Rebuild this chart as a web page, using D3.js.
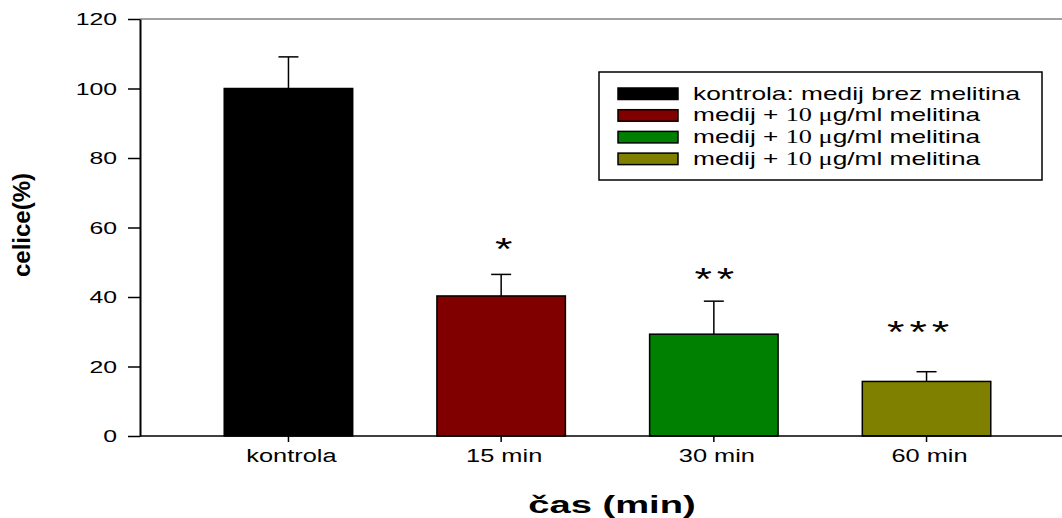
<!DOCTYPE html>
<html>
<head>
<meta charset="utf-8">
<script src="https://cdn.jsdelivr.net/npm/d3@7"></script>
<style>
  body { margin: 0; background: #fff; }
  text { font-family: "Liberation Sans", Arial, sans-serif; fill: #000; }
</style>
</head>
<body>
<div id="chart"></div>
<script>
const WIDTH = 1062;
const HEIGHT = 518;

// values
const categories = ["kontrola", "15 min", "30 min", "60 min"];
const means = [100, 40.3, 29.3, 15.7];
const errors = [9.1, 6.2, 9.5, 2.8];
const stars = ["", "*", "**", "***"];
const starLevels = [0, 55.9, 47.3, 31.9];
const colors = ["#000000", "#800000", "#008000", "#808000"];
const legendLabels = [
  ["kontrola: medij brez melitina"],
  ["medij + ", "10 \u03bc", "g/ml melitina"],
  ["medij + ", "10 \u03bc", "g/ml melitina"],
  ["medij + ", "10 \u03bc", "g/ml melitina"]
];
const yTicks = [0, 20, 40, 60, 80, 100, 120];

const svg = d3.select("#chart").append("svg")
  .attr("width", WIDTH).attr("height", HEIGHT);

const x = d3.scaleBand().domain(categories).range([140, 1075]).padding(0.396);
const y = d3.scaleLinear().domain([0, 120]).range([436, 19]);

// bars
svg.selectAll(".bar").data(categories).enter()
  .append("rect")
  .attr("class", "bar")
  .attr("x", d => x(d))
  .attr("y", (d, i) => y(means[i]))
  .attr("width", x.bandwidth())
  .attr("height", (d, i) => y(0) - y(means[i]))
  .attr("fill", (d, i) => colors[i])
  .attr("stroke", "#000")
  .attr("stroke-width", 1.5);

// error bars (upper only)
const cx = d => x(d) + x.bandwidth() / 2;
svg.selectAll(".err").data(categories).enter()
  .append("line")
  .attr("x1", cx).attr("x2", cx)
  .attr("y1", (d, i) => y(means[i]))
  .attr("y2", (d, i) => y(means[i] + errors[i]))
  .attr("stroke", "#000").attr("stroke-width", 1.5);
svg.selectAll(".cap").data(categories).enter()
  .append("line")
  .attr("x1", d => cx(d) - 10).attr("x2", d => cx(d) + 10)
  .attr("y1", (d, i) => y(means[i] + errors[i]))
  .attr("y2", (d, i) => y(means[i] + errors[i]))
  .attr("stroke", "#000").attr("stroke-width", 1.5);

// significance stars
const starShift = [0, 5, 3, -6];
svg.selectAll(".star").data(categories.filter((d, i) => stars[i])).enter()
  .append("text")
  .attr("transform", d => {
    const i = categories.indexOf(d);
    return `translate(${cx(d) + starShift[i]},${y(starLevels[i])}) scale(1.4,1)`;
  })
  .attr("dy", "0.57em")
  .attr("text-anchor", "middle")
  .style("font-size", "32px")
  .style("letter-spacing", "3.5px")
  .text(d => stars[categories.indexOf(d)]);

// frame lines
svg.append("line").attr("x1", 140).attr("x2", WIDTH).attr("y1", 19).attr("y2", 19)
  .attr("stroke", "#444").attr("stroke-width", 1);

// y axis
const yAxis = svg.append("g").attr("transform", "translate(140,0)")
  .call(d3.axisLeft(y).tickValues(yTicks).tickSize(12).tickSizeOuter(0));
yAxis.select(".domain").attr("stroke-width", 2);
yAxis.selectAll(".tick line").attr("stroke-width", 1.5);
yAxis.selectAll(".tick text")
  .attr("x", 0).attr("dy", "0.36em")
  .attr("transform", "translate(-23,0) scale(1.55,1)")
  .style("font-size", "16px").style("font-family", "Liberation Sans, Arial, sans-serif");

// x axis
const xAxis = svg.append("g").attr("transform", "translate(0,436)")
  .call(d3.axisBottom(x).tickSize(6).tickSizeOuter(0));
xAxis.select(".domain").attr("d", `M140,0H${WIDTH}`).attr("stroke-width", 1.5);
xAxis.selectAll(".tick line").attr("stroke-width", 1.5);
xAxis.selectAll(".tick text")
  .attr("y", 0).attr("dy", 0)
  .attr("transform", "translate(3,26) scale(1.41,1)")
  .style("font-size", "18px").style("font-family", "Liberation Sans, Arial, sans-serif");

// axis titles
svg.append("text")
  .attr("transform", "translate(612,513) scale(1.59,1)")
  .attr("text-anchor", "middle")
  .style("font-size", "24px").style("font-weight", "bold")
  .text("čas (min)");

svg.append("text")
  .attr("transform", "translate(30,225) rotate(-90)")
  .attr("text-anchor", "middle")
  .attr("textLength", 104).attr("lengthAdjust", "spacingAndGlyphs")
  .style("font-size", "24px").style("font-weight", "bold")
  .text("celice(%)");

// legend
const legend = svg.append("g");
legend.append("rect")
  .attr("x", 599).attr("y", 72).attr("width", 443).attr("height", 108)
  .attr("fill", "#fff").attr("stroke", "#000").attr("stroke-width", 1.5);
legendLabels.forEach((parts, i) => {
  legend.append("rect")
    .attr("x", 618).attr("y", 88 + i * 21.7)
    .attr("width", 60).attr("height", 11.5)
    .attr("fill", colors[i]).attr("stroke", "#000").attr("stroke-width", 1.5);
  const t = legend.append("text")
    .attr("transform", `translate(693,${99.5 + i * 21.8}) scale(1.46,1)`)
    .style("font-size", "18px");
  parts.forEach((p, j) => {
    t.append("tspan")
      .style("font-family", j === 1 ? "'Liberation Serif', 'Times New Roman', serif" : null)
      .style("white-space", "pre")
      .text(p);
  });
});
</script>
</body>
</html>
